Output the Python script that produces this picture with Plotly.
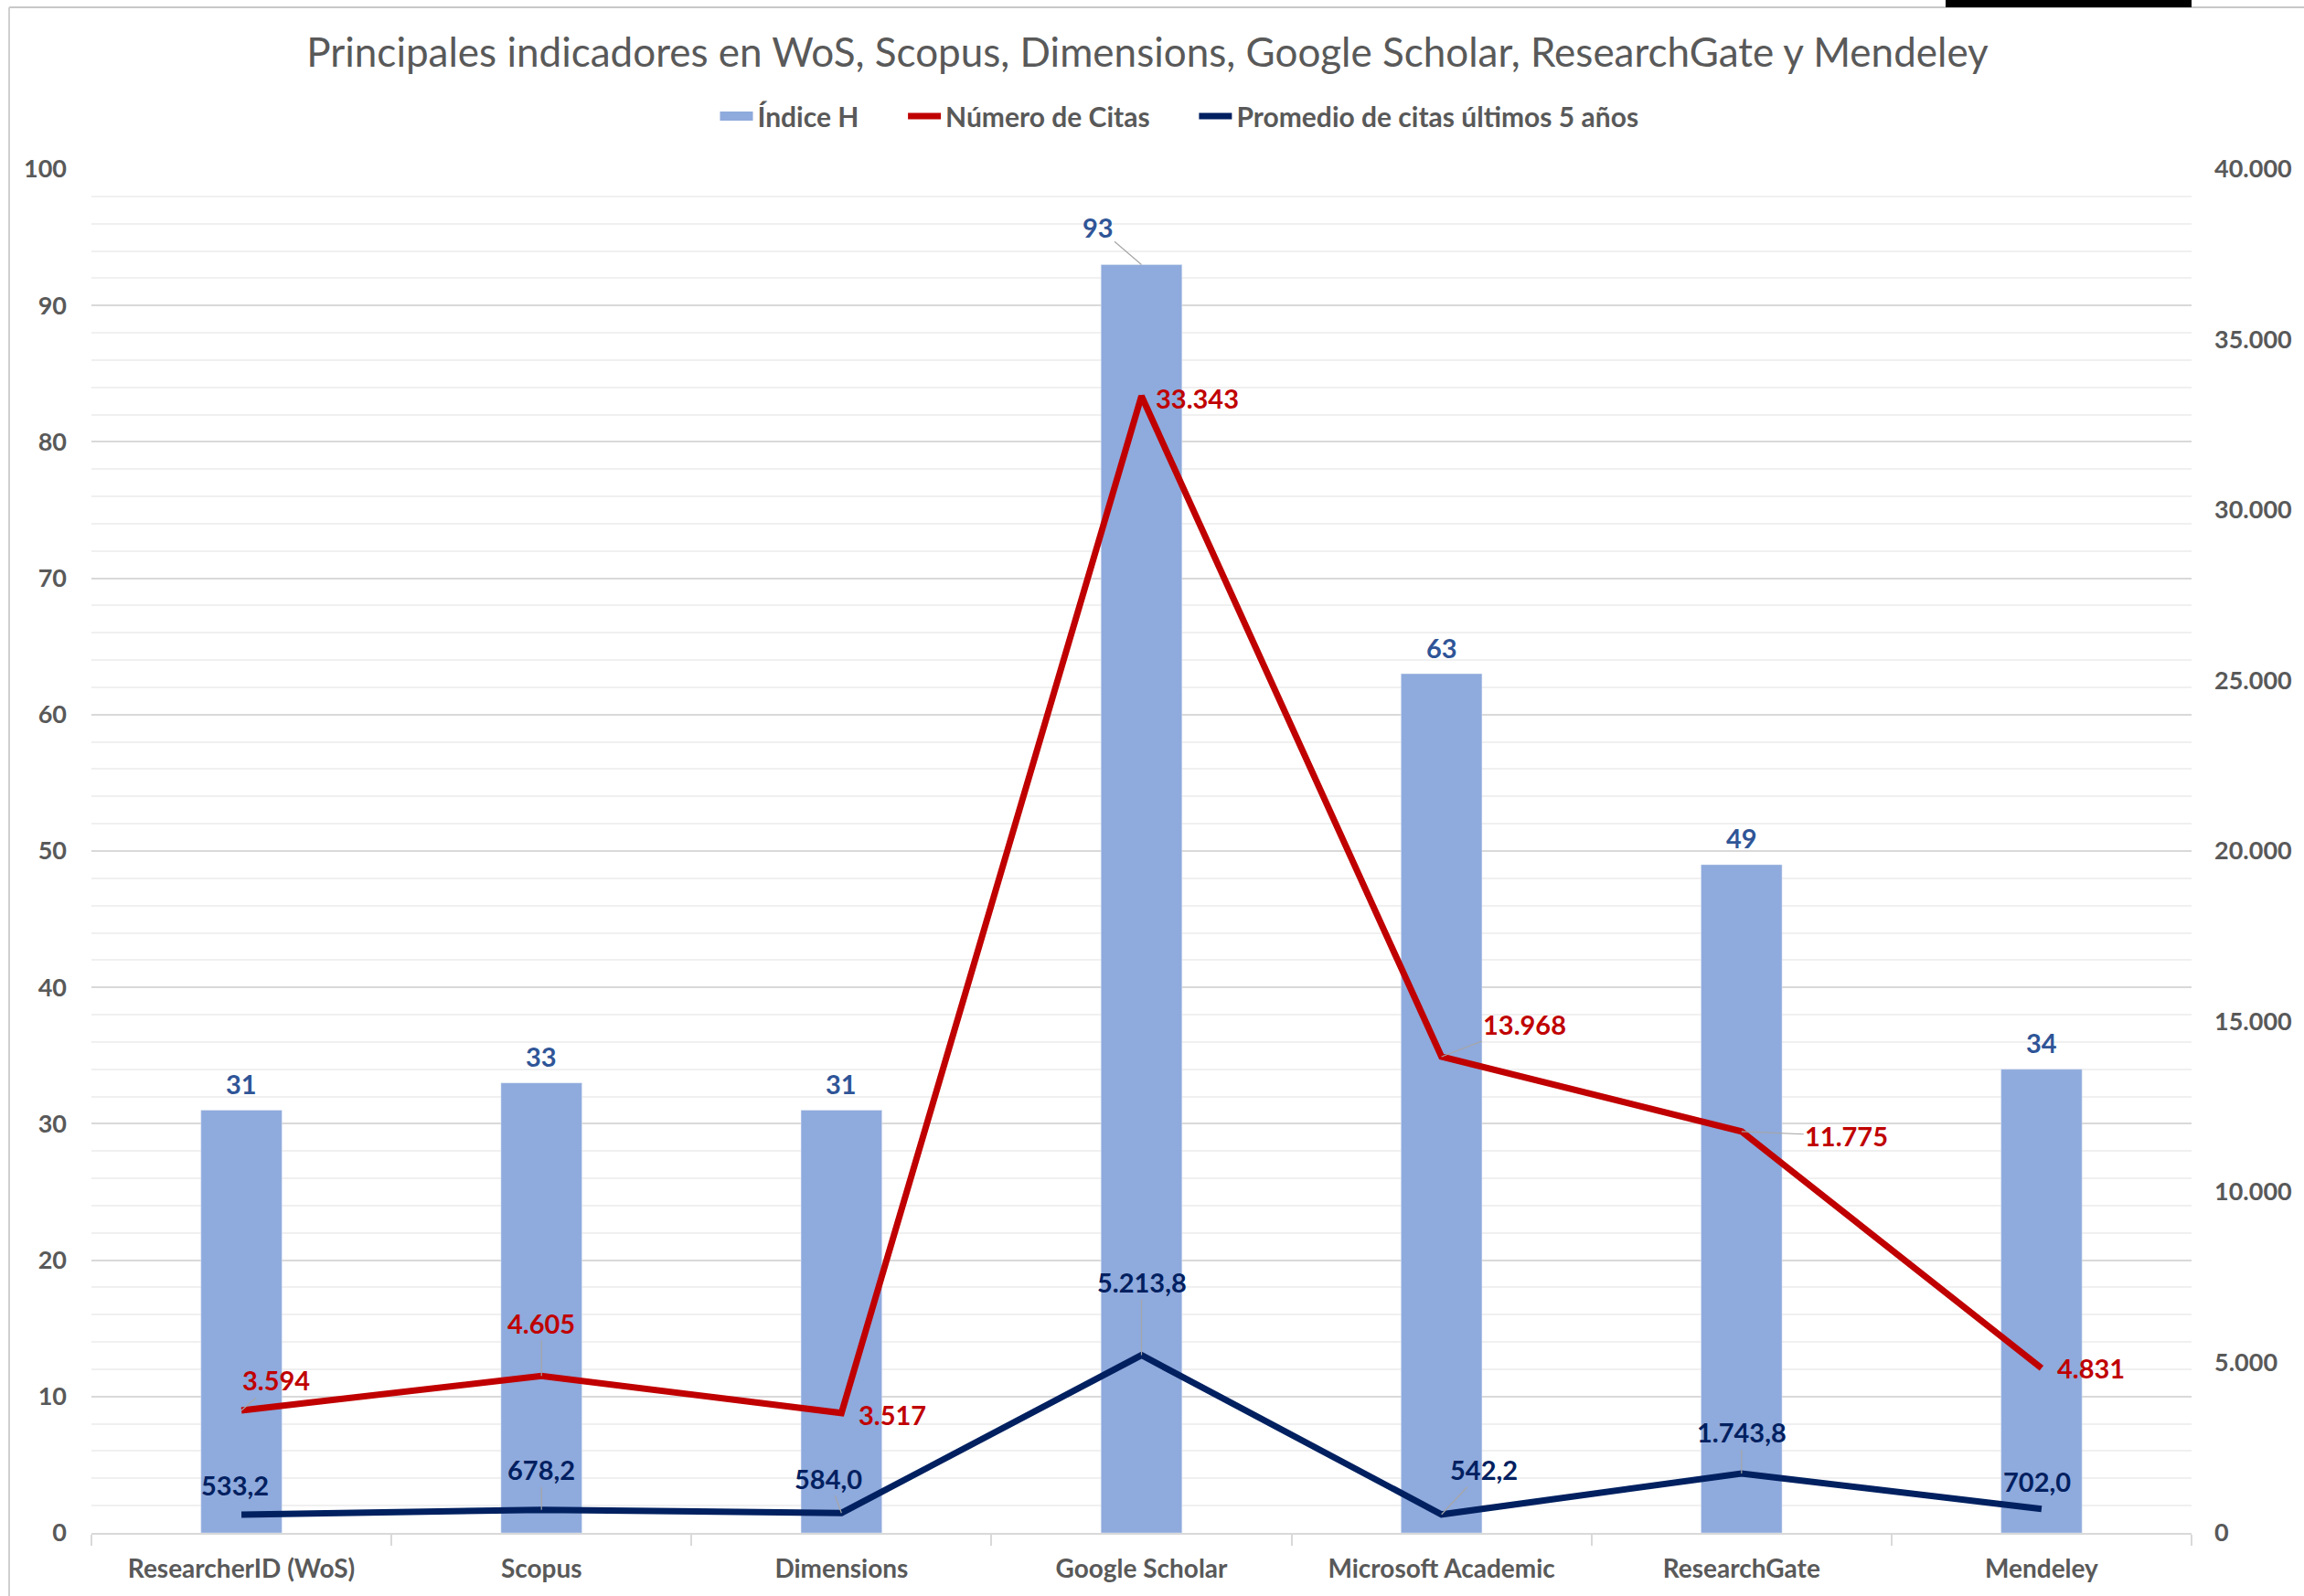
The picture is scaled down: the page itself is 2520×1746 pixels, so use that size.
import plotly.graph_objects as go

categories = ["ResearcherID (WoS)", "Scopus", "Dimensions", "Google Scholar",
              "Microsoft Academic", "ResearchGate", "Mendeley"]
indice_h = [31, 33, 31, 93, 63, 49, 34]
num_citas = [3594, 4605, 3517, 33343, 13968, 11775, 4831]
promedio_5 = [533.2, 678.2, 584.0, 5213.8, 542.2, 1743.8, 702.0]

left_ticks = [0, 10, 20, 30, 40, 50, 60, 70, 80, 90, 100]
right_ticks = [0, 5000, 10000, 15000, 20000, 25000, 30000, 35000, 40000]

# label placement (pixel offsets of label centre relative to the point), styles only
h_off = [(0, -29), (0, -29), (0, -29), (-48, -41), (0, -29), (0, -29), (0, -29)]
c_off = [(38, -33), (0, -58), (56, 2), (61, 2), (91, -35), (115, 5), (54, 0)]
p_off = [(-7, -33), (0, -44), (-14, -38), (0, -80), (46, -49), (0, -45), (-5, -30)]
h_arrow = [False, False, False, True, False, False, False]
c_arrow = [True, True, False, False, True, True, False]
p_arrow = [False, True, True, True, True, True, False]

FONT = "Lato"
GREY = "#595959"
BAR = "#8FAADC"
RED = "#C00000"
NAVY = "#002060"
HBLUE = "#2F5597"
NB = "\u00a0" * 6


def es_int(v):
    return f"{v:,}".replace(",", ".")


def es_dec(v):
    return f"{v:,.1f}".replace(",", "X").replace(".", ",").replace("X", ".")


fig = go.Figure()
fig.add_trace(go.Bar(x=categories, y=indice_h, name="Índice H", marker_color=BAR,
                     yaxis="y", showlegend=False))
# legend swatch for the bars (wide rectangle like the original)
fig.add_trace(go.Scatter(x=[None], y=[None], name="Índice H" + NB, mode="lines",
                         line=dict(color=BAR, width=18), yaxis="y"))
fig.add_trace(go.Scatter(x=categories, y=num_citas, name="Número de Citas" + NB, mode="lines",
                         line=dict(color=RED, width=7), yaxis="y2"))
fig.add_trace(go.Scatter(x=categories, y=promedio_5, name="Promedio de citas últimos 5 años",
                         mode="lines", line=dict(color=NAVY, width=7), yaxis="y2"))

annotations = []
LBL = 29


def add_labels(values, texts, offs, arrows, color, yref):
    for cat, v, t, (dx, dy), arr in zip(categories, values, texts, offs, arrows):
        if arr:
            annotations.append(dict(
                x=cat, y=v, xref="x", yref=yref, text=t, showarrow=True,
                ax=dx, ay=dy, arrowhead=0, arrowwidth=1.2, arrowcolor="#A6A6A6",
                standoff=0, startstandoff=0,
                font=dict(family=FONT, size=LBL, color=color, weight="bold")))
        else:
            annotations.append(dict(
                x=cat, y=v, xref="x", yref=yref, text=t, showarrow=False,
                xshift=dx, yshift=-dy,
                font=dict(family=FONT, size=LBL, color=color, weight="bold")))


add_labels(indice_h, [str(v) for v in indice_h], h_off, h_arrow, HBLUE, "y")
add_labels(num_citas, [es_int(v) for v in num_citas], c_off, c_arrow, RED, "y2")
add_labels(promedio_5, [es_dec(v) for v in promedio_5], p_off, p_arrow, NAVY, "y2")

L, R, T, B = 100, 123, 185, 69
W, H = 2520, 1746
pw, ph = W - L - R, H - T - B


def px(xp):
    return (xp - L) / pw


def py(yp):
    return (H - B - yp) / ph


shapes = [
    dict(type="line", xref="paper", yref="paper", x0=px(10), x1=px(2520), y0=py(8), y1=py(8),
         line=dict(color="#C8C8C8", width=2)),
    dict(type="line", xref="paper", yref="paper", x0=px(10), x1=px(10), y0=py(8), y1=py(1746),
         line=dict(color="#D0D0D0", width=2)),
    dict(type="rect", xref="paper", yref="paper", x0=px(2128), x1=px(2397), y0=py(0), y1=py(8),
         fillcolor="black", line=dict(width=0)),
]

fig.update_layout(
    width=W, height=H,
    margin=dict(l=L, r=R, t=T, b=B),
    paper_bgcolor="white", plot_bgcolor="white",
    separators=",.",
    bargap=0.73,
    title=dict(text="Principales indicadores en WoS, Scopus, Dimensions, Google Scholar, ResearchGate y Mendeley",
               x=1255 / W, xref="container", xanchor="center", y=1 - 58 / H, yanchor="middle",
               font=dict(family=FONT, size=44, color=GREY)),
    legend=dict(orientation="h", x=px(1290), xanchor="center", y=py(127), yanchor="middle",
                font=dict(family=FONT, size=30, color=GREY, weight="bold"),
                itemwidth=36, bgcolor="rgba(0,0,0,0)", traceorder="normal"),
    xaxis=dict(type="category", showgrid=False, showline=True, linecolor="#D9D9D9", linewidth=2,
               ticks="outside", tickson="boundaries", ticklen=12, tickcolor="#D9D9D9", tickwidth=2,
               tickfont=dict(family=FONT, size=28, color=GREY, weight="bold"),
               ticklabelstandoff=13),
    yaxis=dict(range=[0, 100], tickvals=left_ticks, showgrid=True, gridcolor="#D9D9D9", gridwidth=2,
               minor=dict(dtick=2, showgrid=True, gridcolor="#F0F0F0", gridwidth=2),
               zeroline=False, showline=False,
               tickfont=dict(family=FONT, size=27, color=GREY, weight="bold"),
               ticklabelstandoff=26),
    yaxis2=dict(range=[0, 40000], tickvals=right_ticks, tickformat=",d", overlaying="y", side="right",
                showgrid=False, zeroline=False, showline=False,
                tickfont=dict(family=FONT, size=27, color=GREY, weight="bold"),
                ticklabelstandoff=24),
    annotations=annotations,
    shapes=shapes,
)

fig.write_html("out.html")
